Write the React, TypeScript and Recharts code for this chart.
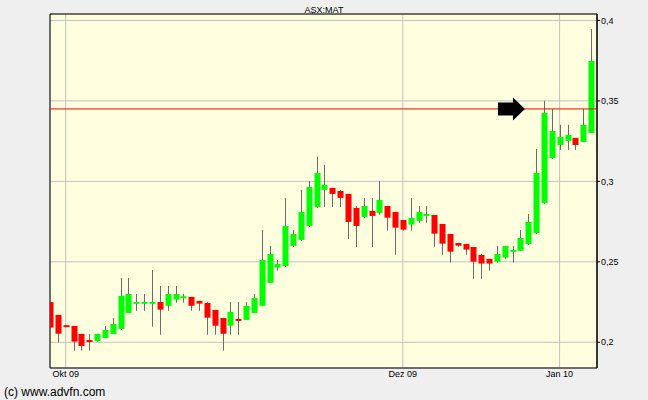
import React from 'react';
import {
  ComposedChart,
  Bar,
  XAxis,
  YAxis,
  CartesianGrid,
  ReferenceLine,
  ReferenceDot,
  ReferenceArea,
} from 'recharts';

// Daily OHLC values for ASX:MAT (trading-day index order)
const opens = [
  0.2250, 0.2170, 0.2106, 0.2101, 0.2052, 0.2014, 0.2008, 0.2027, 0.2052, 0.2083,
  0.2182, 0.2249, 0.2249, 0.2249, 0.2250, 0.2227, 0.2265, 0.2284, 0.2282, 0.2257,
  0.2244, 0.2201, 0.2151, 0.2103, 0.2145, 0.2139, 0.2182, 0.2227, 0.2369, 0.2464,
  0.2474, 0.2599, 0.2636, 0.2723, 0.2841, 0.2947, 0.2959, 0.2940, 0.2922, 0.2835,
  0.2779, 0.2816, 0.2804, 0.2847, 0.2810, 0.2760, 0.2731, 0.2754, 0.2787, 0.2791,
  0.2735, 0.2673, 0.2617, 0.2611, 0.2592, 0.2543, 0.2518, 0.2501, 0.2526, 0.2563,
  0.2569, 0.2611, 0.2679, 0.2866, 0.3145, 0.3226, 0.3251, 0.3270, 0.3245, 0.3301,
];
const highs = [
  0.2250, 0.2170, 0.2106, 0.2101, 0.2052, 0.2052, 0.2052, 0.2101, 0.2151, 0.2400,
  0.2400, 0.2300, 0.2300, 0.2449, 0.2350, 0.2350, 0.2350, 0.2302, 0.2282, 0.2257,
  0.2252, 0.2201, 0.2151, 0.2250, 0.2250, 0.2250, 0.2300, 0.2698, 0.2599, 0.2511,
  0.2897, 0.2698, 0.2947, 0.3002, 0.3152, 0.3102, 0.2959, 0.2947, 0.2922, 0.2847,
  0.2897, 0.2897, 0.3002, 0.2847, 0.2810, 0.2760, 0.2897, 0.2847, 0.2847, 0.2791,
  0.2735, 0.2673, 0.2617, 0.2611, 0.2592, 0.2549, 0.2518, 0.2599, 0.2599, 0.2599,
  0.2698, 0.2797, 0.3201, 0.3500, 0.3450, 0.3351, 0.3351, 0.3270, 0.3450, 0.3947,
];
const lows = [
  0.2091, 0.2000, 0.2097, 0.1948, 0.1948, 0.1948, 0.2004, 0.2027, 0.2052, 0.2076,
  0.2182, 0.2195, 0.2195, 0.2097, 0.2047, 0.2196, 0.2246, 0.2246, 0.2196, 0.2196,
  0.2047, 0.2047, 0.1948, 0.2047, 0.2047, 0.2139, 0.2182, 0.2227, 0.2369, 0.2445,
  0.2468, 0.2592, 0.2630, 0.2717, 0.2835, 0.2841, 0.2841, 0.2841, 0.2642, 0.2592,
  0.2773, 0.2592, 0.2793, 0.2694, 0.2544, 0.2694, 0.2694, 0.2743, 0.2743, 0.2594,
  0.2544, 0.2495, 0.2594, 0.2544, 0.2395, 0.2395, 0.2445, 0.2495, 0.2520, 0.2495,
  0.2569, 0.2605, 0.2673, 0.2860, 0.3139, 0.3195, 0.3195, 0.3195, 0.3245, 0.3301,
];
const closes = [
  0.2091, 0.2053, 0.2103, 0.2004, 0.1977, 0.2004, 0.2052, 0.2076, 0.2114, 0.2288,
  0.2300, 0.2251, 0.2251, 0.2251, 0.2203, 0.2300, 0.2300, 0.2286, 0.2227, 0.2240,
  0.2153, 0.2103, 0.2053, 0.2188, 0.2140, 0.2226, 0.2275, 0.2511, 0.2549, 0.2487,
  0.2723, 0.2673, 0.2810, 0.2965, 0.3052, 0.2978, 0.2922, 0.2897, 0.2748, 0.2723,
  0.2847, 0.2785, 0.2884, 0.2774, 0.2712, 0.2700, 0.2773, 0.2810, 0.2797, 0.2675,
  0.2613, 0.2563, 0.2600, 0.2576, 0.2501, 0.2489, 0.2489, 0.2549, 0.2599, 0.2574,
  0.2648, 0.2748, 0.3052, 0.3425, 0.3313, 0.3276, 0.3288, 0.3226, 0.3351, 0.3748,
];

// Month ticks (trading-day index where the month starts) and labels
const monthTickIndex = [2, 45, 65];
const monthTickLabels = ['Okt 09', 'Dez 09', 'Jan 10'];

// Price ticks
const priceTicks = [0.2, 0.25, 0.3, 0.35, 0.4];

// Resistance level and marker
const resistanceLevel = 0.345;
const arrowIndex = 60.58;

const xDomain: [number, number] = [0, 69.77];
const yDomain: [number, number] = [0.184, 0.404];

const data = opens.map((o, i) => ({
  i,
  open: o,
  high: highs[i],
  low: lows[i],
  close: closes[i],
}));

const FONT = '"Liberation Sans", Arial, sans-serif';

const Candle = (props: any) => {
  const { x, y, width, height, payload } = props;
  if (x == null || y == null || !payload) return null;
  const { open, close, high, low } = payload;
  const top = Math.min(y, y + height);
  const h = Math.abs(height);
  const ratio = h / (high - low);
  const yOpen = top + (high - open) * ratio;
  const yClose = top + (high - close) * ratio;
  const up = close >= open;
  const bodyTop = Math.min(yOpen, yClose);
  const bodyH = Math.max(Math.abs(yOpen - yClose), 2);
  const cx = Math.round(x + width / 2);
  return (
    <g>
      <line x1={cx + 0.5} x2={cx + 0.5} y1={top} y2={top + h} stroke="#6a6a6a" strokeWidth={1} />
      <rect x={cx - 2.5} y={bodyTop} width={6} height={bodyH} fill={up ? '#00ff00' : '#ff0000'} />
    </g>
  );
};

const Arrow = (props: any) => {
  const { cx, cy } = props;
  if (cx == null || cy == null) return null;
  const pts = [
    [cx - 27, cy - 6.5],
    [cx - 12, cy - 6.5],
    [cx - 12, cy - 11.5],
    [cx, cy],
    [cx - 12, cy + 11.5],
    [cx - 12, cy + 6.5],
    [cx - 27, cy + 6.5],
  ]
    .map((p) => p.join(','))
    .join(' ');
  return <polygon points={pts} fill="#000000" />;
};

const fmtPrice = (v: number) => String(v).replace('.', ',');
const fmtMonth = (v: number) => {
  const k = monthTickIndex.indexOf(v);
  return k >= 0 ? monthTickLabels[k] : '';
};

export default function App() {
  return (
    <div
      style={{
        position: 'fixed',
        left: 0,
        top: 0,
        width: 648,
        height: 400,
        background: '#efefef',
      }}
    >
      <ComposedChart
        width={648}
        height={400}
        data={data}
        margin={{ top: 14, right: 0, bottom: 0, left: 50 }}
      >
        <CartesianGrid
          fill="#ffffe0"
          fillOpacity={1}
          stroke="#c0c0c0"
          strokeWidth={1}
        />
        <XAxis
          dataKey="i"
          type="number"
          domain={xDomain}
          allowDataOverflow
          ticks={monthTickIndex}
          tickFormatter={fmtMonth}
          height={32}
          tickSize={3}
          tickMargin={0}
          tickLine={false}
          axisLine={false}
          interval={0}
          tick={{ fill: '#000', fontSize: 9, fontFamily: FONT }}
        />
        <XAxis
          xAxisId="top"
          dataKey="i"
          type="number"
          orientation="top"
          mirror
          domain={xDomain}
          allowDataOverflow
          ticks={monthTickIndex}
          tickFormatter={() => ''}
          height={0}
          tickSize={3}
          axisLine={false}
          tickLine={{ stroke: '#000' }}
        />
        <YAxis
          orientation="right"
          type="number"
          domain={yDomain}
          allowDataOverflow
          ticks={priceTicks}
          tickFormatter={fmtPrice}
          width={51}
          tickSize={3}
          tickMargin={1}
          interval={0}
          axisLine={{ stroke: '#000' }}
          tickLine={{ stroke: '#000' }}
          tick={{ fill: '#000', fontSize: 9, fontFamily: FONT, textAnchor: 'start' }}
        />
        <YAxis
          yAxisId="left"
          orientation="left"
          type="number"
          mirror
          domain={yDomain}
          allowDataOverflow
          ticks={priceTicks}
          tickFormatter={() => ''}
          width={0}
          tickSize={3}
          axisLine={false}
          tickLine={{ stroke: '#000' }}
        />
        <ReferenceLine
          y={resistanceLevel}
          stroke="#ff0000"
          strokeWidth={1}
          ifOverflow="extendDomain"
        />
        <Bar
          dataKey={(d: any) => [d.low, d.high]}
          barSize={6}
          shape={<Candle />}
          isAnimationActive={false}
        />
        <ReferenceDot
          x={arrowIndex}
          y={resistanceLevel}
          r={10}
          shape={<Arrow />}
        />
        <ReferenceArea
          x1={xDomain[0]}
          x2={xDomain[1]}
          y1={yDomain[0]}
          y2={yDomain[1]}
          fill="none"
          stroke="#000"
          strokeWidth={1}
          ifOverflow="visible"
        />
      </ComposedChart>
      <svg
        width={648}
        height={400}
        style={{ position: 'absolute', left: 0, top: 0, pointerEvents: 'none' }}
      >
        <text x={324} y={12.5} textAnchor="middle" fontSize={9} fontFamily={FONT} fill="#000">
          ASX:MAT
        </text>
        <text x={4} y={396} fontSize={12} fontFamily={FONT} fill="#000">
          (c) www.advfn.com
        </text>
      </svg>
    </div>
  );
}
